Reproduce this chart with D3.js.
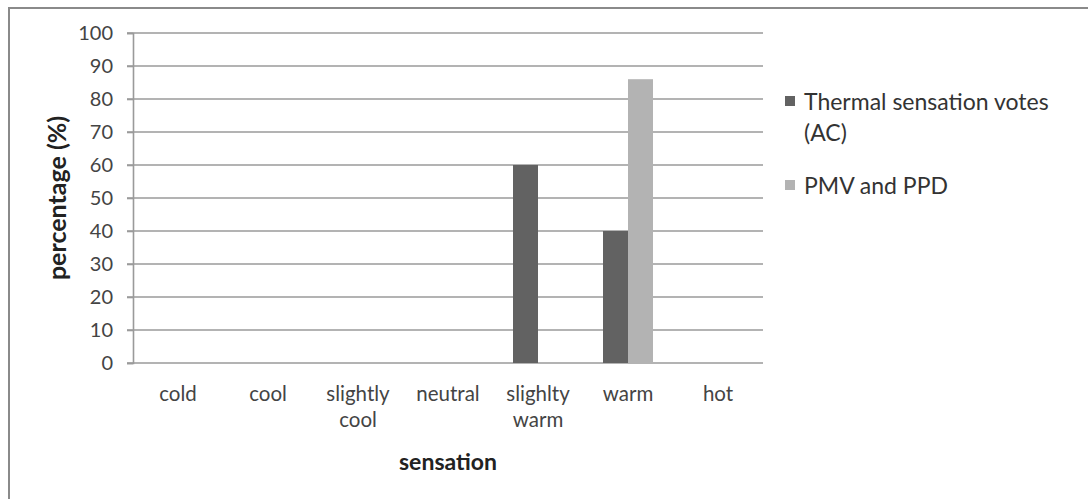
<!DOCTYPE html>
<html>
<head>
<meta charset="utf-8">
<script src="https://cdn.jsdelivr.net/npm/d3@7"></script>
<style>
  html, body { margin: 0; padding: 0; background: #fff; }
  svg { display: block; font-family: Lato, "Open Sans", sans-serif; }
</style>
</head>
<body>
<div id="chart"></div>
<script>
const categories = ["cold", "cool", "slightly cool", "neutral", "slighlty warm", "warm", "hot"];
const seriesNames = ["Thermal sensation votes (AC)", "PMV and PPD"];
const thermalVotes = [0, 0, 0, 0, 60, 40, 0];
const pmvPpd = [0, 0, 0, 0, 0, 86, 0];
const yTicks = [0, 10, 20, 30, 40, 50, 60, 70, 80, 90, 100];
const colors = ["#626262", "#b3b3b3"];

const width = 1088, height = 499;
const plot = { left: 133, right: 763, top: 33, bottom: 363 };

const rows = categories.map((c, i) => ({ cat: c, values: [thermalVotes[i], pmvPpd[i]] }));

const svg = d3.select("#chart")
  .append("svg")
  .attr("width", width)
  .attr("height", height);

// outer chart border (cropped at right/bottom)
svg.append("rect")
  .attr("x", 9).attr("y", 8)
  .attr("width", width + 20).attr("height", height + 20)
  .attr("fill", "none")
  .attr("stroke", "#8a8a8a")
  .attr("stroke-width", 2);

const x0 = d3.scaleBand()
  .domain(categories)
  .range([plot.left, plot.right]);

const x1 = d3.scaleBand()
  .domain(d3.range(seriesNames.length))
  .range([0, x0.bandwidth()])
  .paddingOuter(0.8);

const y = d3.scaleLinear()
  .domain([0, 100])
  .range([plot.bottom, plot.top]);

// gridlines
svg.append("g")
  .selectAll("line")
  .data(yTicks)
  .join("line")
    .attr("x1", plot.left - 6)
    .attr("x2", plot.right)
    .attr("y1", d => y(d))
    .attr("y2", d => y(d))
    .attr("stroke", "#9a9a9a")
    .attr("stroke-width", 1.6);

// y axis
const yAxis = svg.append("g")
  .attr("transform", `translate(${plot.left},0)`)
  .call(d3.axisLeft(y).tickValues(yTicks).tickSize(6).tickPadding(14));
yAxis.select(".domain").attr("stroke", "#9a9a9a").attr("stroke-width", 1.6);
yAxis.selectAll(".tick line").attr("stroke", "#9a9a9a").attr("stroke-width", 1.6);
yAxis.selectAll(".tick text")
  .attr("fill", "#444")
  .style("font-size", "20px")
  .style("font-family", "Lato, sans-serif");

// bars
svg.append("g")
  .selectAll("g")
  .data(rows)
  .join("g")
    .attr("transform", d => `translate(${x0(d.cat)},0)`)
  .selectAll("rect")
  .data(d => d.values.map((v, i) => ({ i, v })))
  .join("rect")
    .attr("x", d => x1(d.i))
    .attr("width", x1.bandwidth())
    .attr("y", d => y(d.v))
    .attr("height", d => y(0) - y(d.v))
    .attr("fill", d => colors[d.i]);

// category labels (wrapped)
const catG = svg.append("g")
  .attr("transform", `translate(0,${plot.bottom})`)
  .call(d3.axisBottom(x0).tickSize(0).tickPadding(0));
catG.select(".domain").remove();
catG.selectAll(".tick text")
  .attr("fill", "#444")
  .style("font-size", "20.5px")
  .style("font-family", "Lato, sans-serif")
  .attr("y", 0)
  .attr("dy", null)
  .each(function(d) {
    const words = d.split(" ");
    const t = d3.select(this).text(null);
    words.forEach((w, k) => {
      t.append("tspan").attr("x", 0).attr("y", 38 + k * 26).text(w);
    });
  });

// axis titles
svg.append("text")
  .attr("transform", `translate(66,${(plot.top + plot.bottom) / 2}) rotate(-90)`)
  .attr("text-anchor", "middle")
  .attr("fill", "#222")
  .style("font-weight", "bold")
  .style("font-size", "25px")
  .text("percentage (%)");

svg.append("text")
  .attr("x", (plot.left + plot.right) / 2)
  .attr("y", 470)
  .attr("text-anchor", "middle")
  .attr("fill", "#222")
  .style("font-weight", "bold")
  .style("font-size", "23px")
  .text("sensation");

// legend
const legendLines = [["Thermal sensation votes", "(AC)"], ["PMV and PPD"]];
const legendY = [102, 186];
const legend = svg.append("g");
legendLines.forEach((lines, i) => {
  legend.append("rect")
    .attr("x", 785).attr("y", legendY[i] - 6)
    .attr("width", 10).attr("height", 10)
    .attr("fill", colors[i]);
  const t = legend.append("text")
    .attr("fill", "#333")
    .style("font-size", "23px");
  lines.forEach((l, k) => {
    t.append("tspan")
      .attr("x", 804)
      .attr("y", legendY[i] + 8 + k * 31)
      .text(l);
  });
});
</script>
</body>
</html>
